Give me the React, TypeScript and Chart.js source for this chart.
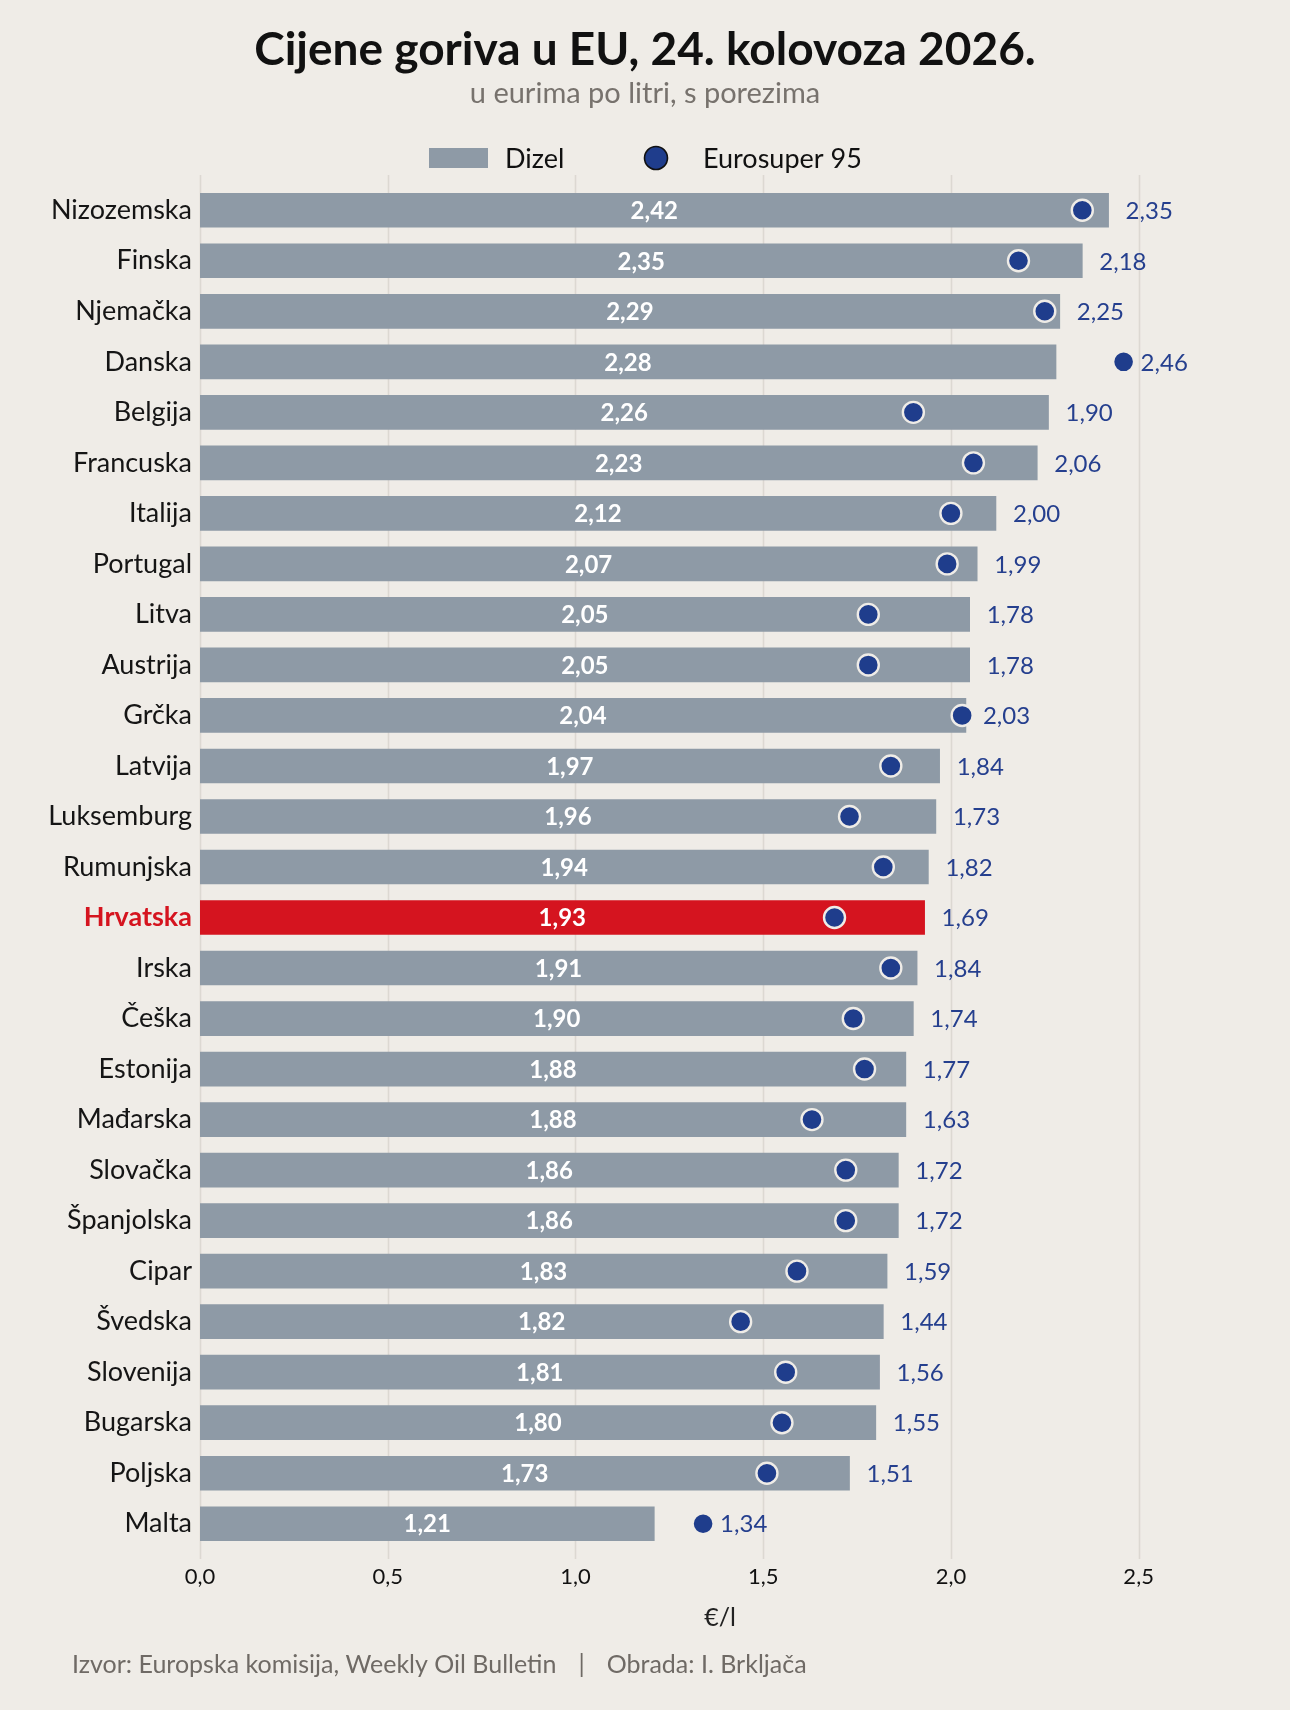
import React, { useEffect, useRef } from "react";
import { Chart, registerables } from "chart.js";

Chart.register(...registerables);

const countries = [
  "Nizozemska", "Finska", "Njemačka", "Danska", "Belgija", "Francuska", "Italija",
  "Portugal", "Litva", "Austrija", "Grčka", "Latvija", "Luksemburg", "Rumunjska",
  "Hrvatska", "Irska", "Češka", "Estonija", "Mađarska", "Slovačka", "Španjolska",
  "Cipar", "Švedska", "Slovenija", "Bugarska", "Poljska", "Malta",
];
const dizel = [
  2.42, 2.35, 2.29, 2.28, 2.26, 2.23, 2.12, 2.07, 2.05, 2.05, 2.04, 1.97, 1.96, 1.94,
  1.93, 1.91, 1.90, 1.88, 1.88, 1.86, 1.86, 1.83, 1.82, 1.81, 1.80, 1.73, 1.21,
];
const eurosuper = [
  2.35, 2.18, 2.25, 2.46, 1.90, 2.06, 2.00, 1.99, 1.78, 1.78, 2.03, 1.84, 1.73, 1.82,
  1.69, 1.84, 1.74, 1.77, 1.63, 1.72, 1.72, 1.59, 1.44, 1.56, 1.55, 1.51, 1.34,
];
const highlight = "Hrvatska";
const titleText = "Cijene goriva u EU, 24. kolovoza 2026.";
const subtitleText = "u eurima po litri, s porezima";
const legendLabels = ["Dizel", "Eurosuper 95"];
const axisTitle = "€/l";
const sourceText = "Izvor: Europska komisija, Weekly Oil Bulletin";
const authorText = "Obrada: I. Brkljača";

const BG = "#efece7";
const BAR = "#8e9aa6";
const RED = "#d5141f";
const DOT = "#1f3d8c";
const BLUE_TXT = "#253f8e";
const FONT = "Lato, 'Noto Sans', sans-serif";

const fmt = (v: number, d: number) => v.toFixed(d).replace(".", ",");

export default function App() {
  const ref = useRef<HTMLCanvasElement | null>(null);

  useEffect(() => {
    document.body.style.margin = "0";
    document.body.style.background = BG;
    const hrIdx = countries.indexOf(highlight);

    const decor = {
      id: "decor",
      beforeDraw(chart: any) {
        const { ctx, width } = chart;
        ctx.save();
        ctx.fillStyle = BG;
        ctx.fillRect(0, 0, chart.width, chart.height);
        // title
        ctx.textAlign = "center";
        ctx.textBaseline = "middle";
        ctx.fillStyle = "#111111";
        ctx.font = `bold 46px ${FONT}`;
        ctx.fillText(titleText, width / 2, 50);
        ctx.fillStyle = "#77726d";
        ctx.font = `29px ${FONT}`;
        ctx.fillText(subtitleText, width / 2, 94);
        // legend
        ctx.fillStyle = BAR;
        ctx.fillRect(429, 148, 59, 20);
        ctx.textAlign = "left";
        ctx.fillStyle = "#111111";
        ctx.font = `27px ${FONT}`;
        ctx.fillText(legendLabels[0], 505, 159);
        ctx.beginPath();
        ctx.arc(656, 158, 11.5, 0, Math.PI * 2);
        ctx.fillStyle = DOT;
        ctx.fill();
        ctx.lineWidth = 1.6;
        ctx.strokeStyle = "#111111";
        ctx.stroke();
        ctx.fillStyle = "#111111";
        ctx.fillText(legendLabels[1], 703, 159);
        // footer
        ctx.fillStyle = "#6f6a65";
        ctx.font = `25px ${FONT}`;
        let x = 72;
        ctx.fillText(sourceText, x, 1665);
        x += ctx.measureText(sourceText).width + 22;
        ctx.fillText("|", x, 1665);
        x += ctx.measureText("|").width + 22;
        ctx.fillText(authorText, x, 1665);
        // grid lines
        const xs = chart.scales.x;
        const area = chart.chartArea;
        ctx.strokeStyle = "#dcd8d2";
        ctx.lineWidth = 1.6;
        xs.ticks.forEach((t: any) => {
          const px = Math.round(xs.getPixelForValue(t.value)) + 0.5;
          ctx.beginPath();
          ctx.moveTo(px, area.top - 10);
          ctx.lineTo(px, area.bottom + 10);
          ctx.stroke();
        });
        ctx.restore();
      },
    };

    const valueLabels = {
      id: "valueLabels",
      afterDatasetsDraw(chart: any) {
        const { ctx } = chart;
        const bars = chart.getDatasetMeta(0).data;
        const pts = chart.getDatasetMeta(1).data;
        ctx.save();
        ctx.textBaseline = "middle";
        bars.forEach((bar: any, i: number) => {
          ctx.textAlign = "center";
          ctx.fillStyle = "#ffffff";
          ctx.font = `bold 24px ${FONT}`;
          ctx.fillText(fmt(dizel[i], 2), (bar.x + bar.base) / 2, bar.y + 1);
          const pt = pts[i];
          ctx.textAlign = "left";
          ctx.fillStyle = BLUE_TXT;
          ctx.font = `24px ${FONT}`;
          ctx.fillText(fmt(eurosuper[i], 2), Math.max(bar.x, pt.x) + 17, bar.y + 1);
        });
        ctx.restore();
      },
    };

    let chart: any = null;
    const make = () => {
      if (!ref.current || chart) return;
      chart = new Chart(ref.current, {
        type: "bar",
        data: {
          labels: countries,
          datasets: [
            {
              type: "bar",
              label: legendLabels[0],
              data: dizel,
              backgroundColor: countries.map((c) => (c === highlight ? RED : BAR)),
              barThickness: 34,
              borderWidth: 0,
              order: 2,
            },
            {
              type: "line",
              label: legendLabels[1],
              data: eurosuper,
              showLine: false,
              pointRadius: 10.5,
              pointHoverRadius: 10.5,
              pointBorderWidth: 2.4,
              pointBackgroundColor: DOT,
              pointBorderColor: BG,
              order: 1,
            },
          ],
        },
        options: {
          indexAxis: "y",
          responsive: false,
          animation: false,
          devicePixelRatio: 1,
          layout: { padding: { top: 185, right: 50, bottom: 77, left: 0 } },
          plugins: {
            legend: { display: false },
            title: { display: false },
            tooltip: { enabled: false },
          },
          scales: {
            x: {
              type: "linear",
              min: 0,
              max: 2.77,
              grid: { display: false, drawTicks: false },
              border: { display: false },
              ticks: {
                stepSize: 0.5,
                includeBounds: false,
                padding: 15,
                color: "#111111",
                font: { family: FONT, size: 22 },
                callback: (v: any) => fmt(Number(v), 1),
              },
              title: {
                display: true,
                text: axisTitle,
                color: "#222222",
                font: { family: FONT, size: 25 },
                padding: { top: 0, bottom: 0 },
              },
              afterFit: (s: any) => {
                s.height = 84;
              },
            },
            y: {
              type: "category",
              grid: { display: false, drawTicks: false },
              border: { display: false },
              ticks: {
                autoSkip: false,
                padding: 8,
                color: (c: any) => (c.index === hrIdx ? RED : "#151515"),
                font: (c: any) => ({
                  family: FONT,
                  size: 27,
                  weight: c.index === hrIdx ? "bold" : "normal",
                }),
              },
              afterFit: (s: any) => {
                s.width = 200;
              },
            },
          },
        },
        plugins: [decor, valueLabels],
      } as any);
    };

    const fontsReady = (document as any).fonts
      ? Promise.all([
          (document as any).fonts.load(`24px Lato`),
          (document as any).fonts.load(`bold 24px Lato`),
        ]).catch(() => null)
      : Promise.resolve(null);
    fontsReady.then(make);

    return () => {
      if (chart) chart.destroy();
      chart = null;
    };
  }, []);

  return (
    <div style={{ width: 1290, height: 1710, background: BG }}>
      <canvas ref={ref} width={1290} height={1710} style={{ display: "block" }} />
    </div>
  );
}
